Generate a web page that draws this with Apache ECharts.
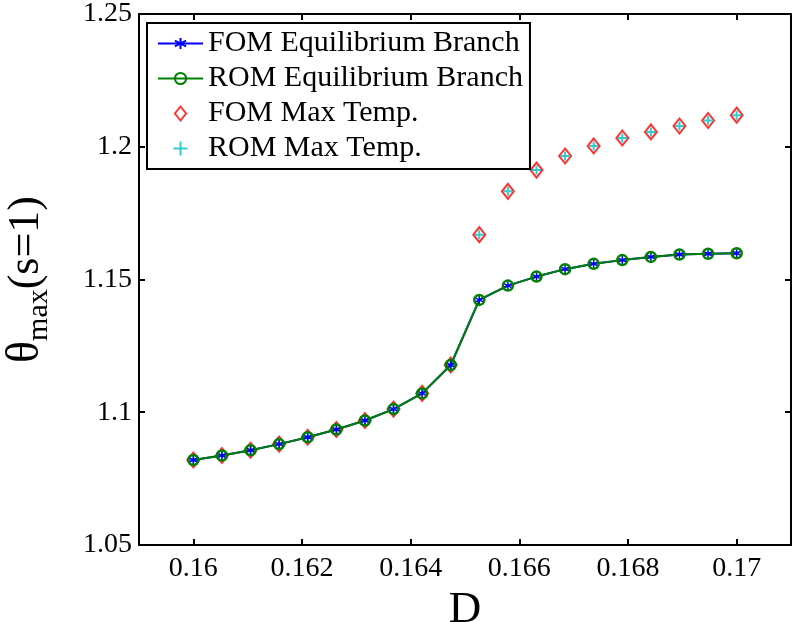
<!DOCTYPE html>
<html>
<head>
<meta charset="utf-8">
<script src="https://cdn.jsdelivr.net/npm/echarts@6/dist/echarts.min.js"></script>
<style>html,body{margin:0;padding:0;background:#fff}#c{width:799px;height:622px}</style>
</head>
<body>
<div id="c"></div>
<script>
var dValues = [0.16, 0.160526, 0.161053, 0.161579, 0.162105, 0.162632, 0.163158, 0.163684, 0.164211, 0.164737,
  0.165263, 0.165789, 0.166316, 0.166842, 0.167368, 0.167895, 0.168421, 0.168947, 0.169474, 0.17];
var fomEquilibrium = [1.0820, 1.0837, 1.0857, 1.0880, 1.0906, 1.0935, 1.0969, 1.1012, 1.1071, 1.1178,
  1.1423, 1.1477, 1.1511, 1.1539, 1.1559, 1.1573, 1.1585, 1.1594, 1.1597, 1.1599];
var romEquilibrium = [1.0820, 1.0837, 1.0857, 1.0880, 1.0906, 1.0935, 1.0969, 1.1012, 1.1071, 1.1178,
  1.1423, 1.1477, 1.1511, 1.1539, 1.1559, 1.1573, 1.1585, 1.1594, 1.1597, 1.1599];
var fomMaxTemp = [1.0820, 1.0837, 1.0857, 1.0880, 1.0906, 1.0935, 1.0969, 1.1012, 1.1071, 1.1178,
  1.1669, 1.1832, 1.1912, 1.1965, 1.2003, 1.2033, 1.2056, 1.2078, 1.2099, 1.2119];
var romMaxTemp = [1.0820, 1.0837, 1.0857, 1.0880, 1.0906, 1.0935, 1.0969, 1.1012, 1.1071, 1.1178,
  1.1669, 1.1832, 1.1912, 1.1965, 1.2003, 1.2033, 1.2056, 1.2078, 1.2099, 1.2119];
var xTicks = [0.16, 0.162, 0.164, 0.166, 0.168, 0.17];
var yTicks = [1.05, 1.1, 1.15, 1.2, 1.25];
var seriesNames = ['FOM Equilibrium Branch', 'ROM Equilibrium Branch', 'FOM Max Temp.', 'ROM Max Temp.'];

function pairs(xs, ys) { return xs.map(function (x, i) { return [x, ys[i]]; }); }
var FONT = 'Liberation Serif';
var asterisk = 'path://M0,-1L0,1M-0.87,-0.5L0.87,0.5M-0.87,0.5L0.87,-0.5';
var plus = 'path://M0,-1L0,1M-1,0L1,0';
var diamond = 'path://M0,-1.25L1,0L0,1.25L-1,0Z';

function xAxisDef(pos, showLabel) {
  return {
    type: 'value', position: pos, min: 0.159, max: 0.171,
    axisLine: { show: true, onZero: false, lineStyle: { color: '#000', width: 2 } },
    axisTick: { show: true, inside: true, length: 6, customValues: xTicks, lineStyle: { color: '#000', width: 2 } },
    axisLabel: { show: showLabel, customValues: xTicks, margin: 10, color: '#000', fontFamily: FONT, fontSize: 28,
      formatter: function (v) { return String(parseFloat(v.toFixed(3))); } },
    splitLine: { show: false }
  };
}
function yAxisDef(pos, showLabel) {
  return {
    type: 'value', position: pos, min: 1.05, max: 1.25,
    axisLine: { show: true, onZero: false, lineStyle: { color: '#000', width: 2 } },
    axisTick: { show: true, inside: true, length: 6, customValues: yTicks, lineStyle: { color: '#000', width: 2 } },
    axisLabel: { show: showLabel, customValues: yTicks, margin: 7, color: '#000', fontFamily: FONT, fontSize: 28,
      formatter: function (v) { return String(parseFloat(v.toFixed(2))); } },
    splitLine: { show: false }
  };
}

var xb = xAxisDef('bottom', true);
xb.name = 'D'; xb.nameLocation = 'middle'; xb.nameGap = 25;
xb.nameTextStyle = { fontFamily: FONT, fontSize: 45, color: '#000' };
var xt = xAxisDef('top', false);
var yl = yAxisDef('left', true);
yl.name = '{t|θ}{s|max}{p|(s=1)}'; yl.nameLocation = 'middle'; yl.nameRotate = 90; yl.nameGap = 85;
yl.nameTextStyle = { fontFamily: FONT, color: '#000', fontSize: 44,
  rich: {
    t: { fontFamily: FONT, fontSize: 46, lineHeight: 56, color: '#000' },
    s: { fontFamily: FONT, fontSize: 30, lineHeight: 30, verticalAlign: 'bottom', color: '#000' },
    p: { fontFamily: FONT, fontSize: 44, lineHeight: 56, color: '#000' }
  } };
var yr = yAxisDef('right', false);

var chart = echarts.init(document.getElementById('c'), null, { renderer: 'canvas' });
chart.setOption({
  animation: false,
  backgroundColor: '#fff',
  grid: { left: 139, right: 8, top: 14, bottom: 77, containLabel: false, outerBoundsMode: 'none' },
  xAxis: [xb, xt],
  yAxis: [yl, yr],
  legend: {
    data: seriesNames, orient: 'vertical', left: 147, top: 23,
    backgroundColor: '#fff', borderColor: '#000', borderWidth: 2, borderRadius: 0,
    padding: [3, 7, 3, 10], itemGap: 0, itemWidth: 45, itemHeight: 14, symbolKeepAspect: true,
    textStyle: { fontFamily: FONT, fontSize: 30, color: '#000', lineHeight: 35 }
  },
  series: [
    { name: seriesNames[0], type: 'line', data: pairs(dValues, fomEquilibrium),
      symbol: asterisk, symbolSize: 8,
      lineStyle: { color: '#0000ff', width: 2 },
      itemStyle: { color: '#0000ff', borderColor: '#0000ff', borderWidth: 1.5 } },
    { name: seriesNames[1], type: 'line', data: pairs(dValues, romEquilibrium),
      symbol: 'circle', symbolSize: 10,
      lineStyle: { color: '#008000', width: 2 },
      itemStyle: { color: 'rgba(0,0,0,0)', borderColor: '#008000', borderWidth: 2.5 } },
    { name: seriesNames[2], type: 'scatter', data: pairs(dValues, fomMaxTemp),
      symbol: diamond, symbolSize: [12, 15], symbolKeepAspect: false,
      itemStyle: { color: 'rgba(0,0,0,0)', borderColor: '#ff0000', borderWidth: 2 } },
    { name: seriesNames[3], type: 'scatter', data: pairs(dValues, romMaxTemp),
      symbol: plus, symbolSize: 9, symbolKeepAspect: false,
      itemStyle: { color: 'rgba(0,0,0,0)', borderColor: '#00bfbf', borderWidth: 2 } }
  ]
});
</script>
</body>
</html>
